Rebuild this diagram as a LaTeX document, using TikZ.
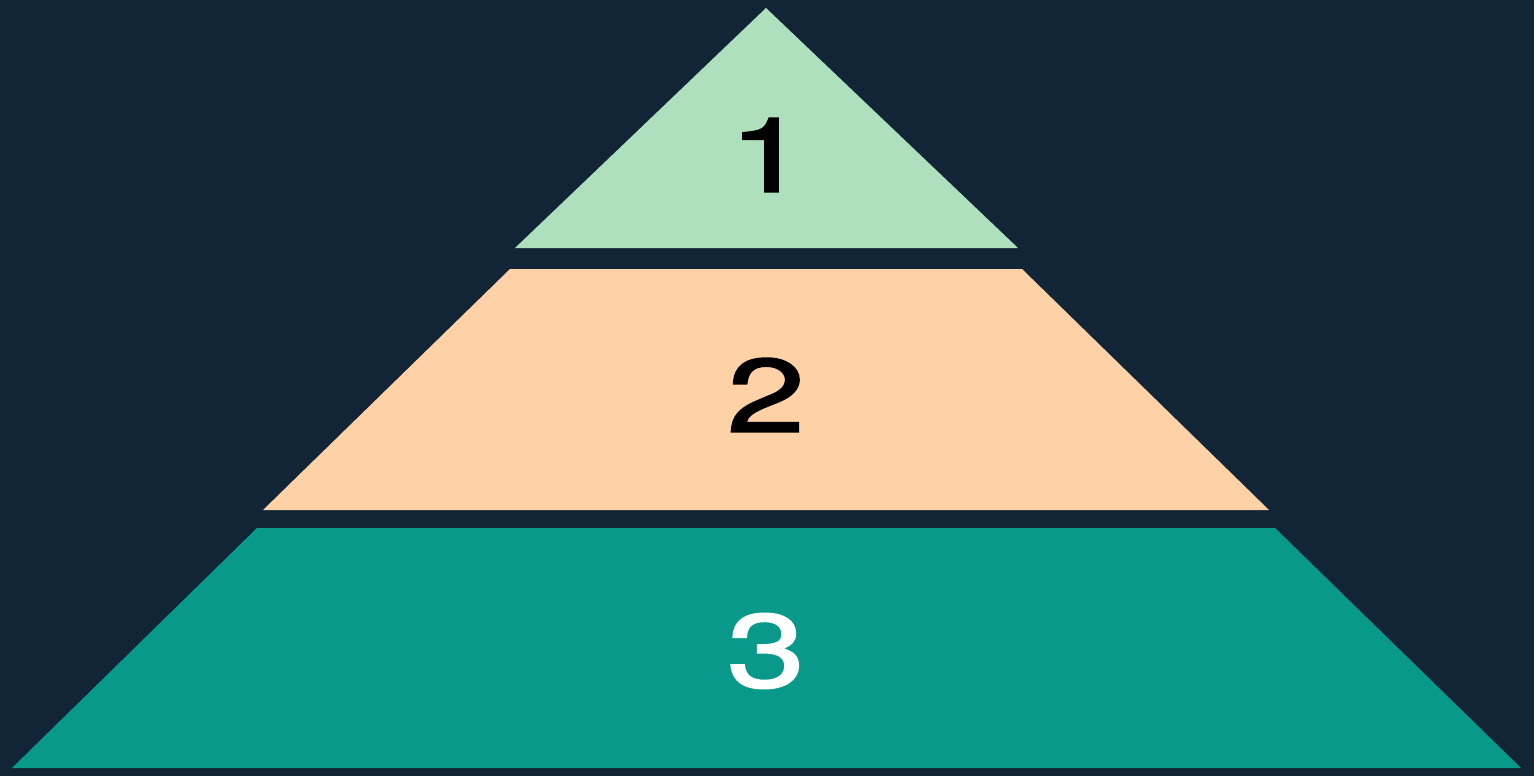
\documentclass[tikz,border=0pt]{standalone}
\usepackage{fontspec}
\setmainfont{TeX Gyre Heros}
\newfontfamily\numfont[FakeBold=1.6]{TeX Gyre Heros}
\usepackage{tikz}

\definecolor{NightBg}{RGB}{17,37,54}
\definecolor{LayerMint}{RGB}{174,224,190}
\definecolor{LayerPeach}{RGB}{254,209,166}
\definecolor{LayerTeal}{RGB}{8,153,139}

\begin{document}
\begin{tikzpicture}[
x=1pt, y=-1pt,
layer/.style={draw=none},
num/.style={font=\numfont\fontsize{104}{110}\selectfont, inner sep=0pt, xscale=1.35}
]
\fill[NightBg] (0,0) rectangle (1534,776);
\useasboundingbox (0,0) rectangle (1534,776);
% pyramid layers
\fill[layer, LayerMint] (766,8) -- (1018,248) -- (515,248) -- cycle;
\fill[layer, LayerPeach] (510,269) -- (1022,269) -- (1269,510) -- (263,510) -- cycle;
\fill[layer, LayerTeal] (257,528) -- (1275,528) -- (1521,768) -- (12,768) -- cycle;
% labels
\node[num, text=black] (top) at (768,155) {1};
\node[num, text=black] (mid) at (766,395) {2};
\node[num, text=white] (base) at (766,651) {3};
\end{tikzpicture}
\end{document}
